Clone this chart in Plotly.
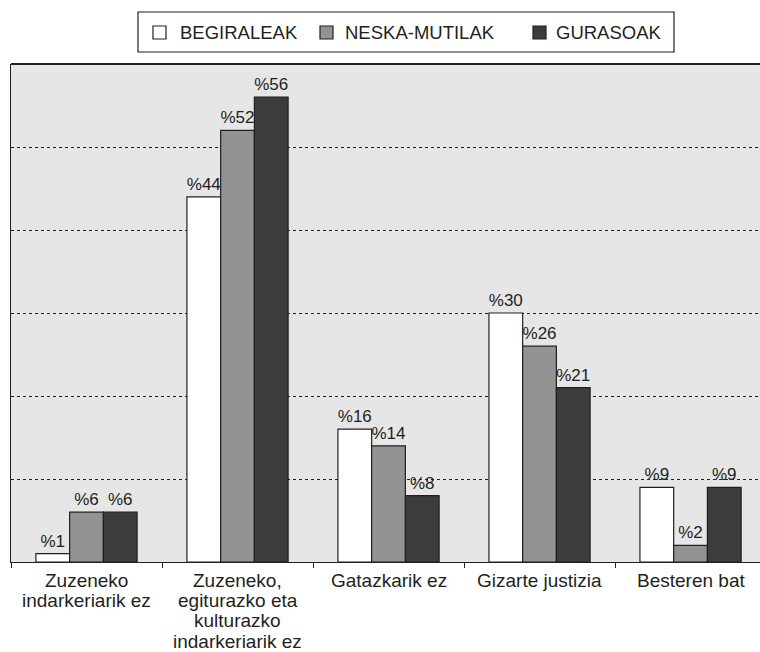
import plotly.graph_objects as go

# ----------------------- data ------------------
categories = ['Zuzeneko<br>indarkeriarik ez',
              'Zuzeneko,<br>egiturazko eta<br>kulturazko<br>indarkeriarik ez',
              'Gatazkarik ez',
              'Gizarte justizia',
              'Besteren bat']
series_names = ['BEGIRALEAK', 'NESKA-MUTILAK', 'GURASOAK']
begiraleak = [1, 44, 16, 30, 9]
neska_mutilak = [6, 52, 14, 26, 2]
gurasoak = [6, 56, 8, 21, 9]
series_values = [begiraleak, neska_mutilak, gurasoak]
colors = ['#ffffff', '#939393', '#3c3c3c']

# ----------------------- layout helpers ------------------
W, H = 760, 652
L, R, T, B = 11, 0, 64, 90
PW, PH = W - L - R, H - T - B
INK = '#231f20'
FONT = 'Liberation Sans, Arial, sans-serif'


def px(x):
    # pixel x -> paper
    return (x - L) / PW


def py(y):
    # pixel y -> paper
    return (H - B - y) / PH


fig = go.Figure()
for name, vals, col in zip(series_names, series_values, colors):
    fig.add_trace(go.Bar(x=categories, y=vals, name=name,
                         marker=dict(color=col, line=dict(color=INK, width=1.2)),
                         text=['%' + str(v) for v in vals], textposition='outside',
                         constraintext='none', cliponaxis=False,
                         textfont=dict(size=17, color=INK, family=FONT)))

shapes = []
annotations = []

# plot frame (top), plot runs off the right edge
shapes.append(dict(type='line', xref='paper', yref='paper', x0=0, x1=1, y0=1, y1=1,
                   line=dict(color=INK, width=2.2)))

# category labels, one annotation per line to keep tight line spacing
for cat in categories:
    for i, line in enumerate(cat.split('<br>')):
        annotations.append(dict(x=cat, y=0, xref='x', yref='y', text=line,
                                showarrow=False, yanchor='middle', xanchor='center',
                                yshift=-(18 + i * 20.4),
                                font=dict(size=19, color=INK, family=FONT)))

# legend box drawn by hand
shapes.append(dict(type='rect', xref='paper', yref='paper',
                   x0=px(138), x1=px(674), y0=py(12), y1=py(52),
                   line=dict(color=INK, width=1.2), fillcolor='white'))
sw_x = [153, 320, 533]
tx_x = [178, 343, 554]
for name, col, sx, tx in zip(series_names, colors, sw_x, tx_x):
    shapes.append(dict(type='rect', xref='paper', yref='paper',
                       x0=px(sx), x1=px(sx + 13), y0=py(26), y1=py(39),
                       line=dict(color=INK, width=1.2), fillcolor=col))
    annotations.append(dict(x=px(tx), y=py(33), xref='paper', yref='paper', text=name,
                            showarrow=False, xanchor='left', yanchor='middle',
                            font=dict(size=18.5, color=INK, family=FONT)))

fig.update_layout(
    width=W, height=H,
    margin=dict(l=L, r=R, t=T, b=B),
    paper_bgcolor='white',
    plot_bgcolor='#e6e6e7',
    barmode='group', bargap=0.33, bargroupgap=0,
    showlegend=False,
    font=dict(family=FONT, size=18, color=INK),
    shapes=shapes,
    annotations=annotations,
)
fig.update_xaxes(range=[-0.5, 4.46], showline=True, linecolor=INK, linewidth=1.2,
                 ticks='outside', tickson='boundaries', ticklen=5, tickcolor=INK,
                 tickwidth=1.2, showticklabels=False, showgrid=False, zeroline=False,
                 fixedrange=True)
fig.update_yaxes(range=[0, 60], dtick=10, showline=True, linecolor=INK, linewidth=1.2,
                 showticklabels=False, ticks='', showgrid=True, gridcolor=INK,
                 gridwidth=1, griddash='dot', zeroline=False, fixedrange=True)

# drop the default 8px page margin so the figure fills the window exactly
fig.write_html("out.html", config={'displayModeBar': False},
               post_script="document.body.style.margin='0';document.body.style.overflow='hidden';")
